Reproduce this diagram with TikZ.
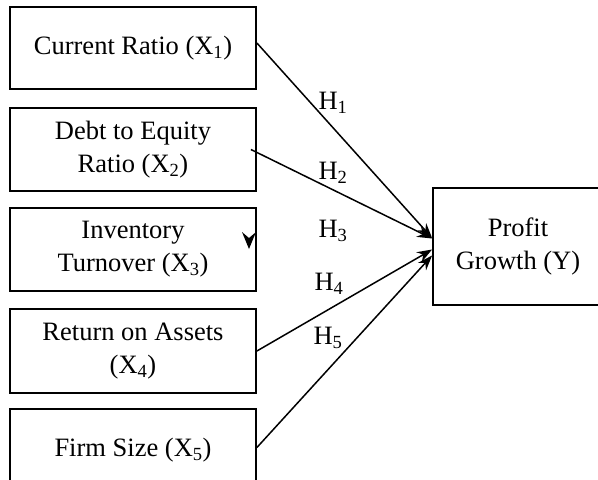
\documentclass[tikz,border=0pt]{standalone}
\usepackage{fontspec}
\setmainfont{Liberation Serif}
\usetikzlibrary{arrows.meta}
\begin{document}
\begin{tikzpicture}[x=1pt,y=-1pt,
  every node/.style={font=\fontsize{26.5}{33}\selectfont},
  varbox/.style={draw,line width=1.8pt,minimum width=246pt,align=center,inner sep=0pt},
  link/.style={line width=1.5pt,-{Stealth[length=15pt,width=11pt]}},
  hlabel/.style={inner sep=0pt}]
\useasboundingbox (0,0) rectangle (598,480);
\node[varbox,minimum height=82pt] (b1) at (133,48) {Current Ratio (X\textsubscript{1})};
\node[varbox,minimum height=83pt] (b2) at (133,149.5) {Debt to Equity\\Ratio (X\textsubscript{2})};
\node[varbox,minimum height=83pt] (b3) at (133,249.5) {Inventory\\Turnover (X\textsubscript{3})};
\node[varbox,minimum height=84pt] (b4) at (133,351) {Return on Assets\\(X\textsubscript{4})};
\node[varbox,minimum height=83pt] (b5) at (133,450.5) {Firm Size (X\textsubscript{5})};
\node[draw,line width=1.8pt,minimum width=170pt,minimum height=117pt,align=center,inner sep=0pt] (y) at (518,246.5) {Profit\\Growth (Y)};
\node[hlabel] (h1) at (333,103) {H\textsubscript{1}};
\node[hlabel] (h2) at (333,173) {H\textsubscript{2}};
\node[hlabel] (h3) at (333,231) {H\textsubscript{3}};
\node[hlabel] (h4) at (329,284) {H\textsubscript{4}};
\node[hlabel] (h5) at (328,338) {H\textsubscript{5}};
\draw[link] ([yshift=5pt]b1.east) -- ([yshift=8.5pt]y.west);
\draw[link] ([xshift=-6pt]b2.east) -- ([yshift=8pt]y.west);
\draw[link] (b4.east) -- ([yshift=-3pt]y.west);
\draw[link] ([yshift=3pt]b5.east) -- ([yshift=-9pt]y.west);
\fill (242,232) -- (249,249) -- (256,232) -- (249,238) -- cycle;
\end{tikzpicture}
\end{document}
